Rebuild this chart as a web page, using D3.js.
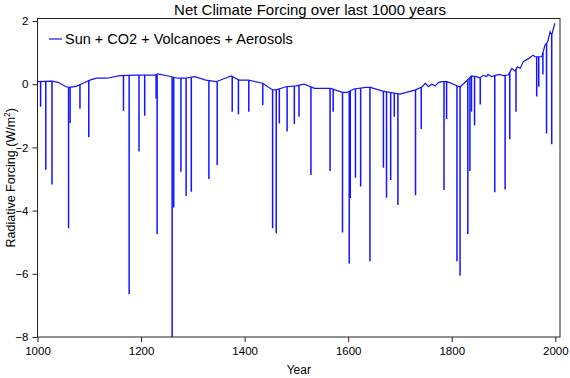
<!DOCTYPE html>
<html>
<head>
<meta charset="utf-8">
<script src="https://cdn.jsdelivr.net/npm/d3@7"></script>
<style>
  body { margin: 0; background: #fff; }
  svg { font-family: "Liberation Sans", Arial, sans-serif; }
</style>
</head>
<body>
<div id="chart"></div>
<script>
// smooth part of the forcing
var baseYears = [1000, 1028, 1040, 1055, 1062, 1076, 1088, 1101, 1114, 1134, 1159, 1190, 1226, 1233, 1252, 1271, 1284, 1304, 1325, 1345, 1374, 1389, 1408, 1435, 1454, 1461, 1480, 1499, 1515, 1535, 1566, 1589, 1598, 1611, 1634, 1643, 1665, 1680, 1700, 1730, 1743, 1749, 1755, 1761, 1768, 1774, 1781, 1791, 1810, 1816, 1829, 1838, 1847, 1854, 1861, 1867, 1870, 1877, 1886, 1893, 1899, 1909, 1916, 1922, 1927, 1932, 1938, 1948, 1951, 1957, 1961, 1974, 1980, 1985, 1990, 1993, 1999];
var baseValues = [0.08, 0.1, 0.06, -0.08, -0.1, -0.06, 0.03, 0.13, 0.19, 0.19, 0.27, 0.29, 0.29, 0.33, 0.26, 0.19, 0.19, 0.24, 0.13, 0.08, 0.26, 0.13, 0.13, 0.03, -0.18, -0.18, -0.08, -0.05, 0.0, -0.13, -0.13, -0.26, -0.26, -0.15, -0.1, -0.1, -0.21, -0.26, -0.31, -0.18, -0.08, 0.03, -0.08, 0.0, -0.05, 0.05, 0.08, 0.08, -0.05, -0.08, 0.11, 0.26, 0.24, 0.2, 0.28, 0.24, 0.31, 0.24, 0.29, 0.31, 0.27, 0.29, 0.5, 0.42, 0.55, 0.5, 0.71, 0.81, 0.84, 0.92, 0.87, 0.87, 1.24, 1.33, 1.66, 1.55, 1.93];

// volcanic drops: year and lowest value
var volcYears = [1006, 1016, 1028, 1060, 1063, 1082, 1099, 1166, 1177, 1196, 1207, 1229, 1231, 1260, 1263, 1277, 1287, 1297, 1331, 1347, 1376, 1388, 1408, 1435, 1454, 1461, 1467, 1482, 1496, 1505, 1528, 1565, 1571, 1589, 1602, 1604, 1614, 1624, 1642, 1668, 1674, 1682, 1689, 1696, 1730, 1741, 1785, 1790, 1810, 1816, 1831, 1835, 1838, 1844, 1855, 1883, 1903, 1912, 1924, 1964, 1968, 1976, 1983, 1993];
var volcValues = [-0.71, -2.71, -3.17, -4.56, -1.23, -0.78, -1.68, -0.84, -6.65, -2.13, -1.0, -0.45, -4.74, -8.0, -3.9, -2.77, -3.54, -3.4, -3.0, -2.56, -0.87, -0.95, -0.87, -0.66, -4.56, -4.72, -1.24, -1.5, -1.26, -1.03, -2.87, -2.75, -0.87, -4.69, -5.67, -3.6, -2.96, -3.24, -5.6, -2.64, -3.59, -3.03, -1.03, -3.82, -3.51, -1.42, -3.35, -1.1, -5.6, -6.06, -4.74, -2.75, -0.87, -1.31, -0.64, -3.42, -3.33, -1.74, -0.87, -0.39, -0.08, 0.31, -1.56, -1.9];

var xTicks = [1000, 1200, 1400, 1600, 1800, 2000];
var yTicks = [-8, -6, -4, -2, 0, 2];

var W = 570, H = 378;
var margin = { top: 18.5, right: 10, bottom: 41, left: 37.5 };
var width = W - margin.left - margin.right,
    height = H - margin.top - margin.bottom;

var svg = d3.select("#chart")
    .append("svg")
    .attr("width", W)
    .attr("height", H);

var g = svg.append("g")
    .attr("transform", "translate(" + margin.left + "," + margin.top + ")");

var x = d3.scaleLinear().domain([1000, 2009]).range([0, width]);
var y = d3.scaleLinear().domain([-8, 2.08]).range([height, 0]);

// baseline value at a year, to hang a spike from the curve
var base = d3.scaleLinear().domain(baseYears).range(baseValues);

var baseData = baseYears.map(function (d, i) { return { year: d, value: baseValues[i] }; });
var volcData = volcYears.map(function (d, i) { return { year: d, value: volcValues[i] }; });

g.append("clipPath").attr("id", "clip")
    .append("rect").attr("width", width).attr("height", height);

var plot = g.append("g").attr("clip-path", "url(#clip)");
var blue = "#1414ff";

plot.selectAll(".spike")
    .data(volcData)
    .enter()
    .append("line")
    .attr("class", "spike")
    .attr("x1", function (d) { return x(d.year); })
    .attr("x2", function (d) { return x(d.year); })
    .attr("y1", function (d) { return y(base(d.year)); })
    .attr("y2", function (d) { return y(d.value); })
    .attr("stroke", blue)
    .attr("stroke-width", 1.5);

plot.append("path")
    .datum(baseData)
    .attr("d", d3.line()
        .x(function (d) { return x(d.year); })
        .y(function (d) { return y(d.value); }))
    .attr("fill", "none")
    .attr("stroke", blue)
    .attr("stroke-width", 1.2);

// frame
g.append("rect")
    .attr("width", width)
    .attr("height", height)
    .attr("fill", "none")
    .attr("stroke", "#222")
    .attr("stroke-width", 1);

// axes
var xAxis = g.append("g")
    .attr("transform", "translate(0," + height + ")")
    .call(d3.axisBottom(x).tickValues(xTicks).tickSize(5).tickPadding(5).tickFormat(d3.format("d")));
var yAxis = g.append("g")
    .call(d3.axisLeft(y).tickValues(yTicks).tickSize(5).tickPadding(4).tickFormat(d3.format("d")));

[xAxis, yAxis].forEach(function (a) {
    a.select(".domain").remove();
    a.selectAll("line").attr("stroke", "#222");
    a.selectAll("text")
        .attr("fill", "#000")
        .style("font-size", "11.5px")
        .style("font-family", "'Liberation Sans', Arial, sans-serif");
});

// title and axis labels
svg.append("text")
    .attr("x", 310)
    .attr("y", 15)
    .attr("text-anchor", "middle")
    .style("font-size", "15px")
    .text("Net Climate Forcing over last 1000 years");

svg.append("text")
    .attr("x", margin.left + width / 2)
    .attr("y", 374)
    .attr("text-anchor", "middle")
    .style("font-size", "12px")
    .text("Year");

var yl = svg.append("text")
    .attr("transform", "translate(15," + (margin.top + height / 2) + ") rotate(-90)")
    .attr("text-anchor", "middle")
    .style("font-size", "12.5px");
yl.append("tspan").text("Radiative Forcing (W/m");
yl.append("tspan").attr("dy", -5).style("font-size", "8.5px").text("2");
yl.append("tspan").attr("dy", 5).text(")");

// legend
var leg = svg.append("g").attr("transform", "translate(49,39)");
leg.append("line")
    .attr("x1", 0).attr("x2", 13)
    .attr("stroke", blue)
    .attr("stroke-width", 1.2);
leg.append("text")
    .attr("x", 16)
    .attr("y", 5)
    .style("font-size", "14.5px")
    .text("Sun + CO2 + Volcanoes + Aerosols");
</script>
</body>
</html>
